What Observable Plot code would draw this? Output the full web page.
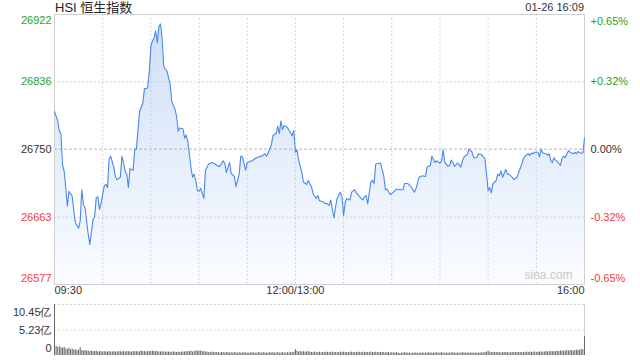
<!DOCTYPE html>
<html><head><meta charset="utf-8">
<script src="https://cdn.jsdelivr.net/npm/d3@7"></script>
<script src="https://cdn.jsdelivr.net/npm/@observablehq/plot@0.6"></script>
<style>
body{margin:0;background:#fff;font-family:"Liberation Sans",Arial,"Noto Sans CJK SC",sans-serif;}
#wrap{position:relative;width:640px;height:360px;overflow:hidden;background:#fff}
#title{position:absolute;left:55px;top:0px;font-size:13px;line-height:15px;color:#222;font-family:"Liberation Sans",Arial,"Noto Sans CJK SC",sans-serif;}
#time{position:absolute;right:56px;top:1px;font-size:11px;line-height:13px;color:#333;}
#main{position:absolute;left:0;top:0}
#vol{position:absolute;left:0;top:300px}
</style></head><body>
<div id="wrap"><div id="main"></div><div id="vol"></div><div id="title">HSI 恒生指数</div><div id="time">01-26 16:09</div></div>
<script>
// trading minutes since 09:30 (lunch break removed; 150 = 12:00/13:00, 330 = 16:00)
const minutes = [
  0,2,3,4,5,6,7,8,9,11,
  12,13,15,16,17,18,19,20,21,22,
  24,25,26,27,28,29,31,32,33,34,
  35,37,38,39,41,42,43,44,45,46,
  47,49,50,51,52,53,55,56,58,59,
  60,61,62,63,64,65,66,67,68,69,
  70,72,73,75,76,77,78,80,81,82,
  83,84,85,86,87,88,89,90,91,
  93,94,96,98,100,102,103,105,106,107,109,
  110,112,113,115,116,117,119,120,123,125,
  127,129,131,132,133,135,136,138,139,140,
  141,142,143,145,146,148,149,150,151,152,
  154,155,157,158,160,161,163,164,165,167,
  168,170,171,172,174,175,176,178,179,180,
  181,182,184,185,187,188,190,192,193,194,
  195,197,198,199,200,202,203,205,206,207,209,
  211,213,215,217,218,220,222,224,225,
  227,229,231,232,234,235,237,238,240,241,
  242,243,245,246,247,248,249,251,252,253,
  254,255,257,258,260,261,263,264,266,267,
  268,269,270,271,272,273,275,276,277,278,
  279,281,282,283,285,286,288,289,291,292,
  293,295,296,297,298,299,301,302,303,304,
  306,307,308,309,310,311,312,314,315,316,
  317,318,319,320,321,323,324,325,326,327,329,330
];
const prices = [
  26798,26786,26773,26770,26730,26722,26701,26677,26696,26690,
  26671,26656,26649,26658,26698,26679,26675,26658,26641,26628,
  26660,26664,26688,26689,26673,26681,26703,26705,26701,26737,
  26741,26726,26714,26711,26714,26741,26732,26722,26718,26701,
  26725,26723,26750,26750,26775,26798,26809,26827,26828,26848,
  26882,26888,26892,26901,26886,26906,26910,26892,26856,26852,
  26850,26833,26811,26801,26792,26773,26777,26776,26764,26768,
  26760,26743,26726,26714,26718,26709,26697,26696,26700,
  26687,26723,26731,26733,26731,26728,26728,26735,26732,26720,26733,
  26719,26715,26702,26718,26741,26740,26723,26733,26735,26738,
  26740,26741,26744,26741,26745,26755,26767,26770,26779,26770,
  26786,26775,26780,26778,26774,26767,26774,26746,26749,26736,
  26720,26708,26705,26710,26702,26693,26687,26691,26684,26683,
  26681,26680,26678,26685,26662,26676,26687,26695,26689,26665,
  26682,26687,26685,26695,26698,26694,26689,26685,26689,26691,
  26680,26708,26710,26706,26731,26732,26732,26716,26698,26699,26692,
  26695,26699,26698,26698,26706,26706,26702,26695,26699,
  26714,26716,26715,26727,26729,26741,26733,26735,26732,26735,
  26749,26733,26728,26729,26736,26733,26728,26732,26730,26727,
  26735,26740,26743,26750,26746,26739,26739,26744,26743,26740,
  26738,26718,26697,26701,26694,26706,26710,26718,26716,26722,
  26714,26724,26718,26718,26714,26711,26714,26720,26731,26738,
  26741,26744,26742,26745,26744,26746,26746,26740,26750,26745,
  26744,26742,26744,26735,26733,26739,26736,26732,26729,26738,
  26741,26739,26744,26748,26746,26744,26746,26744,26747,26745,26745,26764
];
// volume per minute (亿), minute 0 .. 330
const volumes = [
  10.45,
  1.9,1.7,1.8,1.6,1.5,1.7,1.4,1.3,1.5,1.2,
  1.3,1.1,1.2,1.0,1.1,1.6,1.0,0.9,1.0,0.9,
  0.9,0.8,0.9,0.8,0.8,0.9,0.7,0.8,0.8,0.7,
  0.8,0.7,0.7,0.8,0.7,0.7,0.8,0.7,0.7,0.8,
  0.8,0.7,0.8,0.7,0.8,0.8,0.7,0.7,0.8,0.8,
  0.8,0.7,0.8,0.9,0.8,0.8,0.7,0.8,0.8,0.8,
  0.9,0.8,0.8,0.8,0.7,0.7,0.8,0.7,0.7,0.7,
  0.7,0.6,0.7,0.7,0.7,0.6,0.7,0.6,0.7,0.7,
  0.7,0.8,0.8,0.8,0.9,0.7,0.8,0.9,0.9,0.9,
  0.9,0.8,0.8,0.7,0.7,0.6,0.6,0.7,0.6,0.6,
  0.6,0.6,0.5,0.6,0.6,0.5,0.6,0.6,0.5,0.6,
  0.5,0.6,0.5,0.5,0.6,0.5,0.5,0.6,0.5,0.5,
  0.5,0.5,0.6,0.5,0.5,0.5,0.6,0.5,0.5,0.6,
  0.5,0.5,0.5,0.6,0.5,0.6,0.5,0.5,0.6,0.5,
  0.5,0.6,0.5,0.5,0.6,0.5,0.6,0.6,0.7,1.2,
  0.9,0.7,0.8,0.7,0.8,0.7,0.7,0.8,0.7,0.6,
  0.6,0.7,0.6,0.6,0.7,0.6,0.6,0.6,0.7,0.6,
  0.6,0.6,0.7,0.6,0.6,0.6,0.6,0.7,0.6,0.7,
  0.6,0.6,0.6,0.6,0.7,0.6,0.6,0.6,0.7,0.6,
  0.6,0.7,0.6,0.6,0.6,0.6,0.7,0.6,0.6,0.7,
  0.6,0.6,0.6,0.6,0.6,0.5,0.6,0.6,0.5,0.6,
  0.5,0.5,0.6,0.5,0.4,0.5,0.5,0.6,0.5,0.5,
  0.5,0.4,0.5,0.5,0.5,0.4,0.5,0.5,0.5,0.5,
  0.5,0.5,0.6,0.5,0.5,0.5,0.5,0.6,0.5,0.5,
  0.6,0.5,0.5,0.5,0.5,0.5,0.5,0.6,0.5,0.5,
  0.5,0.5,0.5,0.6,0.5,0.5,0.5,0.5,0.5,0.5,
  0.5,0.5,0.5,0.5,0.5,0.6,0.5,0.6,0.7,0.9,
  0.7,0.6,0.6,0.6,0.6,0.6,0.6,0.5,0.6,0.6,
  0.6,0.6,0.5,0.6,0.6,0.6,0.6,0.6,0.6,0.6,
  0.6,0.6,0.6,0.7,0.6,0.7,0.6,0.7,0.7,0.6,
  0.7,0.7,0.7,0.7,0.7,0.8,0.7,0.8,0.8,0.8,
  0.8,0.8,0.9,0.8,0.9,0.9,0.9,0.9,1.0,0.9,
  1.0,1.0,0.9,1.0,1.1,1.0,1.1,1.2,1.2,3.9
];
const prevClose = 26750;
const priceTicks = [26577, 26663, 26750, 26836, 26922];
const pctLabels = ["-0.65%", "-0.32%", "0.00%", "+0.32%", "+0.65%"];
const timeGrid = [30, 60, 90, 120, 150, 180, 210, 240, 270, 300];
const timeLabels = ["09:30", "12:00/13:00", "16:00"];
const timeLabelPos = [0, 150, 330];
const volTicks = [0, 5.23, 10.45];
const volLabels = ["0", "5.23亿", "10.45亿"];

const GREEN = "#1ea51e", RED = "#f03c3c", DARK = "#333";
const tickColor = v => v > prevClose ? GREEN : v < prevClose ? RED : DARK;
const series = minutes.map((m, i) => ({m, p: prices[i]}));
const ticks = priceTicks.map((v, i) => ({v, pct: pctLabels[i]}));
const tickTop = ticks.filter(d => d.v === d3.max(priceTicks));
const tickBot = ticks.filter(d => d.v === d3.min(priceTicks));
const tickMid = ticks.filter(d => d.v !== d3.max(priceTicks) && d.v !== d3.min(priceTicks));
const yMin = d3.min(priceTicks), yMax = d3.max(priceTicks);
const font = '"Liberation Sans", Arial, sans-serif';

const main = Plot.plot({
  width: 640, height: 300,
  marginTop: 14, marginBottom: 16, marginLeft: 54, marginRight: 56,
  x: {domain: [0, 330], axis: null},
  y: {domain: [yMin, yMax], axis: null},
  color: {type: "identity"},
  style: {fontFamily: font, fontSize: "11px", background: "transparent", overflow: "visible"},
  marks: [
    Plot.areaY(series, {x: "m", y1: yMin, y2: "p", fill: "url(#hsiGrad)", curve: "linear"}),
    Plot.ruleX(timeGrid, {stroke: "#c8c8c8", strokeDasharray: "1.5,2.5", strokeWidth: 1}),
    Plot.ruleY(priceTicks.filter(v => v !== yMin && v !== yMax && v !== prevClose), {stroke: "#c8c8c8", strokeDasharray: "1.5,2.5", strokeWidth: 1}),
    Plot.ruleY([prevClose], {stroke: "#b4b4b4", strokeDasharray: "3,2", strokeWidth: 1}),
    Plot.frame({stroke: "#cfcfcf"}),
    Plot.line(series, {x: "m", y: "p", stroke: "#4a88ec", strokeWidth: 1.1, curve: "linear"}),
    Plot.text(["sina.com"], {frameAnchor: "bottom-right", text: d => d, dx: -12, dy: -6, fill: "#c9c9c9", fontSize: 12, textAnchor: "end"}),
    // left price labels
    Plot.text(tickTop, {x: 0, y: "v", text: d => String(d.v), fill: d => tickColor(d.v), textAnchor: "end", dx: -3, dy: 6}),
    Plot.text(tickMid, {x: 0, y: "v", text: d => String(d.v), fill: d => tickColor(d.v), textAnchor: "end", dx: -3}),
    Plot.text(tickBot, {x: 0, y: "v", text: d => String(d.v), fill: d => tickColor(d.v), textAnchor: "end", dx: -3, dy: -6}),
    // right percent labels
    Plot.text(tickTop, {x: 330, y: "v", text: "pct", fill: d => tickColor(d.v), textAnchor: "start", dx: 6, dy: 7}),
    Plot.text(tickMid, {x: 330, y: "v", text: "pct", fill: d => tickColor(d.v), textAnchor: "start", dx: 6}),
    Plot.text(tickBot, {x: 330, y: "v", text: "pct", fill: d => tickColor(d.v), textAnchor: "start", dx: 6, dy: -6}),
    // time labels
    Plot.text([0], {x: d => timeLabelPos[d], frameAnchor: "bottom", text: d => timeLabels[d], textAnchor: "start", dy: 9, fill: DARK}),
    Plot.text([1], {x: d => timeLabelPos[d], frameAnchor: "bottom", text: d => timeLabels[d], textAnchor: "middle", dy: 9, fill: DARK}),
    Plot.text([2], {x: d => timeLabelPos[d], frameAnchor: "bottom", text: d => timeLabels[d], textAnchor: "end", dy: 9, fill: DARK})
  ]
});
// gradient for area fill
const NS = "http://www.w3.org/2000/svg";
const defs = document.createElementNS(NS, "defs");
const grad = document.createElementNS(NS, "linearGradient");
grad.setAttribute("id", "hsiGrad");
grad.setAttribute("x1", "0"); grad.setAttribute("y1", "0");
grad.setAttribute("x2", "0"); grad.setAttribute("y2", "1");
[["0%", "#cfdff8"], ["100%", "#fafcff"]].forEach(([o, c]) => {
  const s = document.createElementNS(NS, "stop");
  s.setAttribute("offset", o); s.setAttribute("stop-color", c);
  grad.appendChild(s);
});
defs.appendChild(grad);
main.insertBefore(defs, main.firstChild);
document.getElementById("main").appendChild(main);

const volData = volumes.map((v, m) => ({m, v}));
const vTicks = volTicks.map((v, i) => ({v, label: volLabels[i]}));
const vol = Plot.plot({
  width: 640, height: 60,
  marginTop: 4, marginBottom: 5, marginLeft: 54, marginRight: 56,
  x: {domain: [0, 330], axis: null},
  y: {domain: [0, d3.max(volTicks)], axis: null},
  color: {type: "identity"},
  style: {fontFamily: font, fontSize: "11px", background: "transparent", overflow: "visible"},
  marks: [
    Plot.ruleY(volTicks.filter(v => v > 0), {stroke: "#c8c8c8", strokeDasharray: "1.5,2.5"}),
    Plot.ruleX([330], {y1: 0, y2: d3.max(volTicks), stroke: "#cfcfcf"}),
    Plot.ruleX(volData, {x: "m", y1: 0, y2: "v", stroke: "#666", strokeWidth: 1}),
    Plot.text(vTicks.filter(d => d.v === d3.max(volTicks)), {x: 0, y: "v", text: "label", textAnchor: "end", dx: -3, dy: 8, fill: DARK}),
    Plot.text(vTicks.filter(d => d.v > 0 && d.v < d3.max(volTicks)), {x: 0, y: "v", text: "label", textAnchor: "end", dx: -3, fill: DARK}),
    Plot.text(vTicks.filter(d => d.v === 0), {x: 0, y: "v", text: "label", textAnchor: "end", dx: -3, dy: -7, fill: DARK})
  ]
});
document.getElementById("vol").appendChild(vol);
</script>
</body></html>
